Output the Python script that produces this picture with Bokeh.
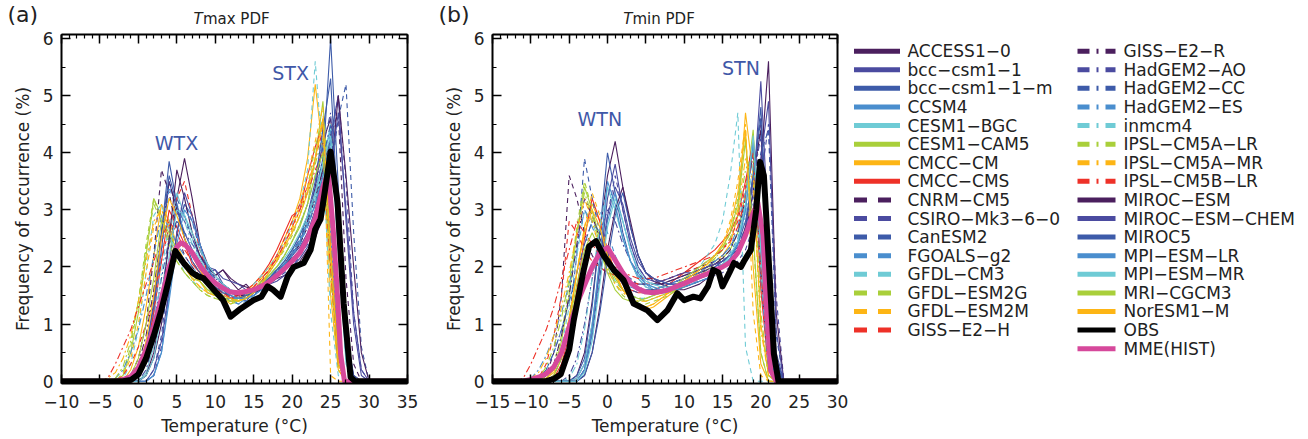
from bokeh.plotting import figure
from bokeh.models import Range1d, LinearAxis, SingleIntervalTicker, Label, CustomJSTickFormatter, ColumnDataSource
from bokeh.layouts import row, column
from bokeh.embed import file_html
from bokeh.resources import INLINE
from bokeh.core.properties import value

# ---------------- data ----------------
MODEL_NAMES = ["ACCESS1−0", "bcc−csm1−1", "bcc−csm1−1−m", "CCSM4", "CESM1−BGC", "CESM1−CAM5",
               "CMCC−CM", "CMCC−CMS", "CNRM−CM5", "CSIRO−Mk3−6−0", "CanESM2", "FGOALS−g2",
               "GFDL−CM3", "GFDL−ESM2G", "GFDL−ESM2M", "GISS−E2−H", "GISS−E2−R", "HadGEM2−AO",
               "HadGEM2−CC", "HadGEM2−ES", "inmcm4", "IPSL−CM5A−LR", "IPSL−CM5A−MR", "IPSL−CM5B−LR",
               "MIROC−ESM", "MIROC−ESM−CHEM", "MIROC5", "MPI−ESM−LR", "MPI−ESM−MR", "MRI−CGCM3", "NorESM1−M"]

TMAX_X = [-5, -4, -3, -2, -1, 0, 1, 2, 3, 4, 5, 6, 7, 8, 9, 10, 11, 12, 13, 14, 15, 16, 17, 18,
          19, 20, 21, 22, 23, 24, 25, 26, 27, 28, 29, 30]
TMAX_MODELS = [
    [0, 0, 0, 0, 0, 0, 0.1, 0.4, 1.0, 2.0, 3.2, 3.9, 3.2, 2.4, 2.05, 1.85, 1.95, 1.75, 1.6, 1.7, 1.55, 1.75, 1.8, 1.95, 2.05, 2.25, 2.4, 2.8, 3.4, 4.2, 4.6, 3.0, 0.8, 0.1, 0, 0],
    [0, 0, 0, 0, 0.05, 0.2, 0.6, 1.3, 2.3, 3.5, 3.0, 2.6, 2.3, 2.1, 1.9, 1.95, 1.7, 1.55, 1.5, 1.4, 1.55, 1.65, 1.7, 1.95, 2.0, 2.2, 2.35, 2.6, 3.0, 3.6, 4.3, 5.0, 2.8, 1.0, 0.1, 0],
    [0, 0, 0, 0, 0, 0.1, 0.4, 1.2, 2.6, 3.85, 3.1, 2.5, 2.2, 1.95, 1.85, 1.7, 1.6, 1.45, 1.5, 1.45, 1.6, 1.65, 1.8, 1.9, 2.05, 2.15, 2.3, 2.55, 2.9, 3.8, 6.0, 3.4, 0.9, 0.1, 0, 0],
    [0, 0, 0, 0, 0, 0, 0, 0.1, 0.5, 1.5, 2.6, 3.1, 2.9, 2.4, 1.95, 1.75, 1.5, 1.45, 1.35, 1.45, 1.5, 1.65, 1.7, 1.85, 2.0, 2.25, 2.4, 2.8, 3.3, 3.9, 4.4, 2.5, 0.5, 0, 0, 0],
    [0, 0, 0, 0, 0, 0, 0.15, 0.6, 1.5, 2.5, 3.3, 2.9, 2.5, 2.15, 1.9, 1.75, 1.6, 1.55, 1.45, 1.5, 1.6, 1.6, 1.85, 1.95, 2.1, 2.3, 2.45, 2.8, 3.2, 3.8, 4.5, 2.6, 0.4, 0, 0, 0],
    [0, 0, 0, 0.1, 0.5, 1.2, 2.2, 3.2, 2.9, 2.5, 2.2, 2.0, 1.8, 1.75, 1.6, 1.55, 1.45, 1.45, 1.4, 1.5, 1.6, 1.75, 1.85, 2.0, 2.2, 2.45, 2.7, 3.1, 3.9, 4.9, 2.8, 0.5, 0, 0, 0, 0],
    [0, 0, 0, 0, 0.2, 0.6, 1.3, 2.2, 3.1, 2.8, 2.4, 2.1, 1.85, 1.75, 1.55, 1.5, 1.45, 1.35, 1.45, 1.55, 1.7, 1.85, 2.0, 2.2, 2.5, 2.8, 3.2, 3.9, 5.2, 4.0, 1.5, 0.2, 0, 0, 0, 0],
    [0, 0, 0, 0, 0, 0.1, 0.5, 1.2, 2.1, 3.0, 2.7, 2.4, 2.05, 1.9, 1.8, 1.6, 1.55, 1.45, 1.5, 1.6, 1.7, 1.85, 2.05, 2.3, 2.6, 2.9, 3.0, 3.6, 4.1, 4.5, 2.4, 0.4, 0, 0, 0, 0],
    [0, 0, 0, 0, 0.1, 0.4, 1.0, 2.2, 3.7, 3.3, 2.6, 2.2, 2.0, 1.85, 1.75, 1.65, 1.55, 1.5, 1.55, 1.5, 1.6, 1.7, 1.8, 1.9, 2.05, 2.2, 2.4, 2.7, 3.1, 3.7, 4.3, 4.7, 1.8, 0.3, 0, 0],
    [0, 0, 0, 0, 0, 0, 0, 0.1, 0.6, 1.6, 2.6, 3.1, 2.8, 2.3, 2.0, 1.8, 1.7, 1.6, 1.55, 1.5, 1.55, 1.65, 1.75, 1.85, 1.95, 2.1, 2.3, 2.5, 2.8, 3.3, 4.2, 5.0, 3.5, 1.2, 0.2, 0],
    [0, 0, 0, 0, 0, 0, 0, 0.2, 0.8, 1.9, 3.2, 2.9, 2.5, 2.2, 1.95, 1.75, 1.6, 1.5, 1.45, 1.45, 1.5, 1.6, 1.7, 1.8, 1.9, 2.0, 2.2, 2.4, 2.6, 3.0, 3.6, 4.6, 5.2, 2.6, 0.6, 0],
    [0, 0, 0, 0, 0, 0.1, 0.4, 1.1, 2.2, 3.4, 3.0, 2.6, 2.3, 2.0, 1.8, 1.6, 1.5, 1.4, 1.35, 1.4, 1.5, 1.6, 1.75, 1.9, 2.05, 2.2, 2.4, 2.7, 3.1, 3.7, 4.3, 2.7, 0.6, 0, 0, 0],
    [0, 0, 0, 0.05, 0.3, 0.9, 1.9, 2.9, 3.1, 2.6, 2.2, 1.9, 1.75, 1.65, 1.55, 1.5, 1.45, 1.4, 1.45, 1.55, 1.7, 1.85, 2.0, 2.2, 2.45, 2.75, 3.1, 3.7, 5.6, 3.9, 1.2, 0.1, 0, 0, 0, 0],
    [0, 0, 0, 0.15, 0.6, 1.4, 2.4, 3.2, 2.8, 2.4, 2.1, 1.9, 1.75, 1.6, 1.5, 1.45, 1.4, 1.35, 1.4, 1.5, 1.6, 1.75, 1.9, 2.1, 2.3, 2.55, 2.9, 3.4, 4.1, 4.6, 2.0, 0.3, 0, 0, 0, 0],
    [0, 0, 0, 0.1, 0.4, 1.0, 1.9, 2.7, 3.0, 2.7, 2.3, 2.0, 1.8, 1.65, 1.55, 1.5, 1.45, 1.4, 1.45, 1.55, 1.65, 1.8, 1.95, 2.15, 2.4, 2.7, 3.1, 3.6, 4.2, 4.8, 0.1, 0, 0, 0, 0, 0],
    [0, 0, 0, 0.1, 0.3, 0.6, 1.0, 1.5, 2.1, 2.7, 3.2, 3.5, 2.9, 2.3, 1.9, 1.7, 1.55, 1.45, 1.45, 1.5, 1.6, 1.75, 1.95, 2.2, 2.5, 2.8, 3.1, 3.4, 3.9, 4.4, 2.2, 0.3, 0, 0, 0, 0],
    [0, 0, 0, 0, 0.1, 0.3, 0.8, 1.6, 2.6, 3.5, 3.0, 2.5, 2.2, 2.0, 1.85, 1.7, 1.6, 1.55, 1.5, 1.5, 1.55, 1.6, 1.7, 1.85, 2.0, 2.2, 2.45, 2.8, 3.2, 3.7, 4.2, 2.8, 0.7, 0, 0, 0],
    [0, 0, 0, 0, 0, 0, 0.2, 0.7, 1.5, 2.4, 3.0, 2.8, 2.5, 2.2, 1.95, 1.8, 1.7, 1.6, 1.55, 1.55, 1.6, 1.7, 1.8, 1.95, 2.1, 2.3, 2.55, 2.9, 3.4, 4.1, 4.7, 2.6, 0.4, 0, 0, 0],
    [0, 0, 0, 0, 0, 0.1, 0.4, 1.0, 1.8, 2.5, 2.8, 2.6, 2.4, 2.2, 2.0, 1.85, 1.7, 1.6, 1.55, 1.5, 1.55, 1.65, 1.75, 1.9, 2.05, 2.25, 2.5, 2.85, 3.3, 3.9, 4.5, 2.5, 0.5, 0, 0, 0],
    [0, 0, 0.05, 0.2, 0.5, 0.9, 1.5, 2.2, 2.9, 2.7, 2.4, 2.2, 2.0, 1.85, 1.7, 1.6, 1.5, 1.45, 1.45, 1.5, 1.6, 1.7, 1.85, 2.0, 2.2, 2.45, 2.75, 3.1, 3.6, 4.2, 2.6, 0.5, 0, 0, 0, 0],
    [0, 0, 0, 0, 0, 0.05, 0.3, 0.9, 1.9, 2.8, 3.1, 2.8, 2.4, 2.1, 1.85, 1.7, 1.55, 1.5, 1.45, 1.5, 1.55, 1.65, 1.8, 1.95, 2.1, 2.3, 2.55, 2.85, 3.2, 3.6, 4.0, 2.6, 0.6, 0, 0, 0],
    [0, 0, 0.05, 0.25, 0.7, 1.4, 2.3, 3.1, 2.8, 2.4, 2.1, 1.9, 1.75, 1.6, 1.5, 1.45, 1.4, 1.4, 1.45, 1.5, 1.6, 1.75, 1.9, 2.1, 2.35, 2.6, 2.9, 3.3, 3.8, 4.3, 1.8, 0.2, 0, 0, 0, 0],
    [0, 0.05, 0.15, 0.4, 0.8, 1.4, 2.1, 2.8, 3.0, 2.7, 2.3, 2.0, 1.8, 1.65, 1.55, 1.5, 1.45, 1.4, 1.4, 1.5, 1.65, 1.8, 1.95, 2.15, 2.4, 2.65, 3.0, 3.4, 3.9, 4.5, 1.9, 0.2, 0, 0, 0, 0],
    [0, 0.05, 0.3, 0.6, 0.9, 1.3, 1.7, 2.1, 2.5, 2.8, 2.6, 2.3, 2.1, 1.9, 1.75, 1.65, 1.55, 1.5, 1.5, 1.55, 1.65, 1.8, 1.95, 2.15, 2.4, 2.7, 3.0, 3.3, 3.7, 4.0, 2.0, 0.3, 0, 0, 0, 0],
    [0, 0, 0, 0, 0, 0, 0.1, 0.5, 1.3, 2.5, 3.7, 3.2, 2.6, 2.2, 2.0, 1.85, 1.95, 1.8, 1.7, 1.65, 1.6, 1.6, 1.7, 1.8, 1.85, 1.95, 2.1, 2.3, 2.5, 2.9, 3.6, 5.0, 3.6, 2.0, 0.5, 0],
    [0, 0, 0, 0, 0, 0, 0, 0.2, 0.7, 1.6, 2.6, 3.3, 2.9, 2.4, 2.0, 1.95, 1.8, 1.75, 1.7, 1.6, 1.6, 1.65, 1.7, 1.75, 1.85, 2.0, 2.15, 2.35, 2.6, 3.0, 3.7, 4.7, 3.0, 1.2, 0.2, 0],
    [0, 0, 0, 0, 0, 0.1, 0.5, 1.4, 2.6, 3.6, 3.1, 2.5, 2.1, 1.9, 1.75, 1.65, 1.55, 1.5, 1.45, 1.5, 1.55, 1.65, 1.8, 1.95, 2.1, 2.3, 2.55, 2.9, 3.5, 4.4, 5.3, 2.8, 0.5, 0, 0, 0],
    [0, 0, 0, 0, 0, 0, 0, 0.1, 0.5, 1.4, 2.4, 3.0, 2.8, 2.4, 2.0, 1.75, 1.6, 1.5, 1.45, 1.45, 1.5, 1.6, 1.75, 1.9, 2.05, 2.2, 2.45, 2.75, 3.1, 3.6, 4.2, 2.4, 0.4, 0, 0, 0],
    [0, 0, 0, 0, 0, 0, 0.1, 0.4, 1.2, 2.2, 3.0, 2.9, 2.6, 2.3, 2.05, 1.85, 1.7, 1.6, 1.55, 1.55, 1.6, 1.7, 1.85, 2.0, 2.15, 2.35, 2.6, 2.9, 3.3, 3.8, 4.3, 2.3, 0.3, 0, 0, 0],
    [0, 0, 0, 0, 0.1, 0.4, 1.0, 1.8, 2.8, 2.6, 2.3, 2.1, 1.9, 1.75, 1.6, 1.5, 1.45, 1.4, 1.4, 1.45, 1.55, 1.7, 1.85, 2.0, 2.2, 2.45, 2.75, 3.1, 3.6, 4.0, 2.2, 0.3, 0, 0, 0, 0],
    [0, 0, 0, 0, 0.05, 0.2, 0.7, 1.5, 2.5, 3.2, 2.9, 2.5, 2.2, 1.95, 1.75, 1.6, 1.5, 1.45, 1.4, 1.45, 1.55, 1.7, 1.9, 2.1, 2.35, 2.6, 2.9, 3.3, 3.9, 4.6, 2.3, 0.3, 0, 0, 0, 0],
]

TMIN_X = [-12, -11, -10, -9, -8, -7, -6, -5, -4, -3, -2, -1, 0, 1, 2, 3, 4, 5, 6, 7, 8, 9, 10, 11,
          12, 13, 14, 15, 16, 17, 18, 19, 20, 21, 22, 23]
TMIN_MODELS = [
    [0, 0, 0, 0, 0, 0, 0, 0, 0.1, 0.5, 1.4, 2.6, 3.6, 4.2, 3.4, 2.7, 2.2, 1.9, 1.8, 1.7, 1.65, 1.6, 1.6, 1.65, 1.7, 1.8, 1.9, 2.0, 2.1, 2.3, 2.7, 3.6, 4.4, 2.0, 0.3, 0],
    [0, 0, 0, 0, 0, 0, 0, 0, 0.05, 0.3, 1.0, 2.0, 2.9, 3.4, 3.1, 2.5, 2.1, 1.9, 1.8, 1.75, 1.7, 1.7, 1.75, 1.8, 1.85, 1.9, 1.95, 2.0, 2.1, 2.25, 2.5, 3.3, 5.25, 2.6, 0.5, 0],
    [0, 0, 0, 0, 0, 0, 0, 0, 0.1, 0.4, 1.3, 2.6, 4.0, 3.3, 2.6, 2.1, 1.8, 1.65, 1.6, 1.6, 1.6, 1.65, 1.7, 1.75, 1.8, 1.85, 1.9, 2.0, 2.1, 2.25, 2.6, 3.5, 4.8, 2.2, 0.4, 0],
    [0, 0, 0, 0, 0, 0, 0, 0, 0, 0.2, 0.8, 1.8, 2.8, 3.3, 2.8, 2.3, 1.9, 1.7, 1.6, 1.55, 1.55, 1.6, 1.65, 1.7, 1.75, 1.8, 1.9, 2.0, 2.15, 2.4, 3.0, 4.3, 2.6, 0.6, 0, 0],
    [0, 0, 0, 0, 0, 0, 0, 0, 0.05, 0.3, 1.0, 2.1, 3.4, 3.0, 2.5, 2.1, 1.8, 1.65, 1.6, 1.55, 1.55, 1.6, 1.65, 1.7, 1.8, 1.85, 1.95, 2.05, 2.2, 2.45, 3.1, 4.1, 2.2, 0.4, 0, 0],
    [0, 0, 0, 0, 0.05, 0.2, 0.7, 1.5, 2.6, 3.4, 3.0, 2.5, 2.1, 1.8, 1.6, 1.5, 1.45, 1.4, 1.45, 1.5, 1.55, 1.6, 1.65, 1.75, 1.85, 1.95, 2.05, 2.15, 2.3, 2.6, 3.3, 4.4, 2.0, 0.3, 0, 0],
    [0, 0, 0, 0, 0, 0.1, 0.4, 1.0, 1.9, 2.7, 3.1, 2.8, 2.3, 1.9, 1.6, 1.45, 1.35, 1.25, 1.3, 1.4, 1.5, 1.6, 1.7, 1.8, 1.9, 2.0, 2.1, 2.2, 2.4, 2.9, 4.7, 3.6, 1.0, 0.1, 0, 0],
    [0, 0, 0, 0, 0, 0.05, 0.3, 0.8, 1.6, 2.5, 3.2, 2.8, 2.3, 1.9, 1.7, 1.6, 1.55, 1.55, 1.6, 1.65, 1.7, 1.8, 1.9, 2.0, 2.1, 2.2, 2.3, 2.45, 2.6, 2.9, 3.5, 4.2, 1.6, 0.2, 0, 0],
    [0, 0, 0, 0, 0.1, 0.5, 1.5, 3.6, 3.2, 2.6, 2.2, 2.0, 1.9, 1.85, 1.8, 1.75, 1.7, 1.7, 1.7, 1.75, 1.8, 1.85, 1.9, 1.95, 2.0, 2.05, 2.1, 2.15, 2.2, 2.3, 2.6, 3.3, 4.6, 2.0, 0.3, 0],
    [0, 0, 0, 0, 0, 0, 0, 0, 0, 0.2, 0.8, 1.8, 2.9, 3.6, 3.0, 2.4, 2.0, 1.8, 1.7, 1.65, 1.6, 1.6, 1.65, 1.7, 1.75, 1.8, 1.85, 1.9, 2.0, 2.1, 2.3, 2.7, 3.5, 4.5, 1.5, 0],
    [0, 0, 0, 0, 0, 0.1, 0.4, 1.1, 2.2, 3.9, 3.2, 2.6, 2.2, 1.9, 1.7, 1.6, 1.55, 1.55, 1.6, 1.65, 1.7, 1.75, 1.8, 1.85, 1.9, 1.95, 2.0, 2.05, 2.1, 2.2, 2.5, 3.2, 4.0, 4.4, 0.8, 0],
    [0, 0, 0, 0.05, 0.2, 0.5, 0.9, 1.4, 1.9, 2.4, 2.8, 3.0, 2.6, 2.2, 1.9, 1.7, 1.6, 1.55, 1.55, 1.6, 1.65, 1.7, 1.75, 1.8, 1.85, 1.9, 2.0, 2.1, 2.25, 2.5, 3.0, 4.1, 2.2, 0.3, 0, 0],
    [0, 0, 0, 0, 0.05, 0.2, 0.6, 1.3, 2.2, 3.0, 2.8, 2.4, 2.0, 1.75, 1.6, 1.5, 1.45, 1.45, 1.5, 1.55, 1.6, 1.7, 1.8, 1.9, 2.0, 2.2, 2.4, 2.8, 3.6, 4.7, 0.6, 0, 0, 0, 0, 0],
    [0, 0, 0, 0, 0.1, 0.3, 0.8, 1.7, 2.7, 3.5, 3.0, 2.4, 2.0, 1.7, 1.5, 1.4, 1.35, 1.35, 1.4, 1.45, 1.5, 1.6, 1.7, 1.8, 1.9, 2.0, 2.15, 2.3, 2.6, 3.2, 4.3, 2.5, 0.5, 0, 0, 0],
    [0, 0, 0, 0, 0.05, 0.2, 0.5, 1.1, 1.9, 2.7, 3.3, 2.9, 2.3, 1.9, 1.6, 1.45, 1.35, 1.3, 1.35, 1.45, 1.55, 1.65, 1.75, 1.85, 1.95, 2.05, 2.2, 2.4, 2.8, 3.5, 4.5, 1.2, 0.1, 0, 0, 0],
    [0, 0, 0, 0.05, 0.3, 0.8, 1.5, 2.8, 2.6, 2.3, 2.1, 2.0, 1.9, 1.85, 1.8, 1.75, 1.7, 1.7, 1.7, 1.75, 1.8, 1.85, 1.9, 1.95, 2.0, 2.1, 2.2, 2.3, 2.5, 2.8, 3.4, 4.2, 1.8, 0.2, 0, 0],
    [0, 0, 0, 0, 0.1, 0.3, 0.8, 1.5, 2.4, 3.2, 2.9, 2.5, 2.2, 1.95, 1.8, 1.7, 1.65, 1.6, 1.6, 1.65, 1.7, 1.75, 1.8, 1.85, 1.9, 1.95, 2.05, 2.15, 2.3, 2.6, 3.2, 4.0, 1.9, 0.3, 0, 0],
    [0, 0, 0, 0, 0, 0, 0, 0.1, 0.4, 1.0, 1.8, 2.6, 3.0, 2.8, 2.4, 2.1, 1.9, 1.75, 1.7, 1.7, 1.7, 1.75, 1.8, 1.85, 1.9, 1.95, 2.0, 2.1, 2.2, 2.35, 2.7, 3.5, 4.3, 1.5, 0.2, 0],
    [0, 0, 0, 0.05, 0.2, 0.5, 0.9, 1.4, 1.9, 2.4, 2.8, 2.6, 2.3, 2.1, 1.9, 1.8, 1.7, 1.7, 1.7, 1.7, 1.75, 1.8, 1.85, 1.9, 1.95, 2.0, 2.1, 2.2, 2.35, 2.6, 3.1, 4.0, 2.0, 0.3, 0, 0],
    [0, 0, 0.05, 0.2, 0.45, 0.8, 1.2, 1.7, 2.3, 3.0, 2.7, 2.4, 2.1, 1.9, 1.75, 1.65, 1.6, 1.6, 1.6, 1.65, 1.7, 1.75, 1.8, 1.85, 1.9, 2.0, 2.1, 2.2, 2.35, 2.7, 3.3, 4.2, 1.8, 0.2, 0, 0],
    [0, 0, 0, 0, 0, 0, 0, 0.05, 0.3, 0.9, 1.8, 2.7, 3.4, 3.0, 2.5, 2.1, 1.85, 1.7, 1.65, 1.6, 1.6, 1.65, 1.7, 1.75, 1.8, 1.85, 1.95, 2.05, 2.2, 2.4, 2.9, 3.8, 2.0, 0.3, 0, 0],
    [0, 0, 0, 0.05, 0.25, 0.6, 1.1, 1.8, 2.6, 3.3, 2.9, 2.4, 2.0, 1.75, 1.6, 1.5, 1.45, 1.45, 1.5, 1.55, 1.6, 1.65, 1.75, 1.85, 1.95, 2.05, 2.15, 2.3, 2.5, 2.9, 3.7, 4.0, 1.2, 0.1, 0, 0],
    [0, 0, 0.05, 0.15, 0.4, 0.8, 1.3, 1.9, 2.6, 3.2, 2.8, 2.3, 1.95, 1.7, 1.55, 1.45, 1.4, 1.4, 1.45, 1.5, 1.55, 1.65, 1.75, 1.85, 1.95, 2.05, 2.2, 2.35, 2.6, 3.0, 3.9, 3.5, 0.9, 0.1, 0, 0],
    [0, 0.05, 0.3, 0.6, 0.9, 1.3, 1.8, 2.3, 2.8, 2.6, 2.4, 2.2, 2.1, 2.0, 1.9, 1.85, 1.8, 1.8, 1.8, 1.85, 1.9, 1.95, 2.0, 2.05, 2.1, 2.15, 2.2, 2.3, 2.45, 2.7, 3.2, 4.0, 2.0, 0.3, 0, 0],
    [0, 0, 0, 0, 0, 0, 0, 0, 0, 0.1, 0.5, 1.3, 2.3, 3.0, 3.4, 2.8, 2.2, 1.9, 1.75, 1.7, 1.75, 1.8, 1.85, 1.9, 1.95, 2.0, 2.05, 2.1, 2.2, 2.3, 2.5, 3.0, 3.8, 5.6, 1.2, 0],
    [0, 0, 0, 0, 0, 0, 0, 0, 0, 0.2, 0.9, 2.0, 3.2, 3.8, 3.0, 2.4, 2.0, 1.8, 1.75, 1.75, 1.8, 1.85, 1.9, 1.9, 1.95, 2.0, 2.05, 2.1, 2.2, 2.3, 2.5, 3.0, 3.9, 4.9, 0.9, 0],
    [0, 0, 0, 0, 0, 0, 0, 0, 0, 0.1, 0.5, 1.2, 2.1, 2.9, 3.3, 2.7, 2.2, 1.9, 1.8, 1.75, 1.7, 1.7, 1.75, 1.8, 1.85, 1.9, 2.0, 2.1, 2.2, 2.4, 2.8, 3.6, 4.6, 1.9, 0.3, 0],
    [0, 0, 0, 0, 0, 0, 0, 0, 0, 0.2, 0.9, 2.2, 3.5, 3.1, 2.5, 2.1, 1.85, 1.7, 1.65, 1.6, 1.6, 1.6, 1.65, 1.7, 1.75, 1.8, 1.9, 2.0, 2.15, 2.4, 3.0, 4.2, 2.4, 0.4, 0, 0],
    [0, 0, 0, 0, 0, 0, 0, 0, 0, 0.15, 0.7, 1.7, 2.7, 3.2, 2.8, 2.3, 1.95, 1.75, 1.7, 1.65, 1.65, 1.65, 1.7, 1.75, 1.8, 1.85, 1.95, 2.05, 2.2, 2.45, 3.1, 4.3, 2.3, 0.3, 0, 0],
    [0, 0, 0, 0, 0, 0.1, 0.4, 1.0, 1.7, 2.3, 2.6, 2.3, 1.9, 1.6, 1.45, 1.4, 1.4, 1.45, 1.5, 1.55, 1.6, 1.7, 1.8, 1.9, 2.0, 2.1, 2.2, 2.35, 2.6, 3.1, 4.2, 2.6, 0.5, 0, 0, 0],
    [0, 0, 0, 0, 0.05, 0.15, 0.5, 1.1, 1.9, 2.6, 3.0, 2.7, 2.2, 1.85, 1.6, 1.45, 1.35, 1.3, 1.35, 1.45, 1.55, 1.65, 1.75, 1.85, 1.95, 2.05, 2.2, 2.4, 2.7, 3.3, 4.4, 2.0, 0.3, 0, 0, 0],
]

OBS_TMAX_X = [-10, -2, -1, 0, 1, 2, 3, 4, 4.8, 6, 7, 7.7, 8.5, 9.8, 11, 12, 13.3, 15, 16, 16.8,
              17.5, 18.5, 19.4, 20.2, 21.5, 22.4, 23, 23.7, 24.3, 25, 25.9, 26.7, 27.6, 28.2, 35]
OBS_TMAX = [0, 0, 0.02, 0.12, 0.4, 0.8, 1.25, 1.8, 2.28, 2.05, 1.9, 1.84, 1.8, 1.6, 1.42, 1.13, 1.27,
            1.42, 1.48, 1.66, 1.6, 1.48, 1.83, 2.0, 2.07, 2.3, 2.66, 2.84, 3.37, 4.02, 3.13, 1.36,
            0.07, 0, 0]
MME_TMAX_X = [-10, -3, -2, -1, 0, 1, 2, 3, 4, 5, 5.5, 6, 7, 8, 9, 10, 11, 12, 13, 14, 15, 16, 17,
              18, 19, 20, 21, 22, 23, 24, 24.7, 25.4, 25.9, 26.3, 26.8, 35]
MME_TMAX = [0, 0, 0.03, 0.08, 0.24, 0.55, 0.95, 1.45, 2.0, 2.35, 2.42, 2.4, 2.25, 2.02, 1.85, 1.72,
            1.63, 1.56, 1.55, 1.57, 1.6, 1.66, 1.74, 1.85, 1.97, 2.1, 2.25, 2.5, 2.85, 3.4, 3.67,
            2.55, 1.48, 0.48, 0, 0]

OBS_TMIN_X = [-15, -8, -7, -6.1, -5, -4.4, -3.1, -2.4, -1.5, -0.5, 0.8, 2.1, 3.4, 5.2, 6.5, 7.8,
              9.1, 10, 11.2, 12.1, 13.1, 13.8, 14.5, 15.0, 15.9, 16.5, 17.4, 17.8, 18.7, 19.4,
              19.9, 20.4, 21.1, 21.7, 22.3, 30]
OBS_TMIN = [0, 0, 0.04, 0.12, 0.55, 1.07, 1.95, 2.36, 2.45, 2.2, 1.95, 1.77, 1.36, 1.24, 1.07, 1.24,
            1.54, 1.42, 1.48, 1.45, 1.66, 1.95, 1.9, 1.66, 1.9, 2.07, 2.0, 2.1, 2.3, 3.0, 3.84, 3.6,
            1.95, 0.48, 0, 0]
MME_TMIN_X = [-15, -11, -10, -9, -8, -7, -6, -5, -4, -3, -2, -1, 0, 1, 2, 3, 4, 5, 6, 7, 8, 9, 10,
              11, 12, 13, 14, 15, 16, 17, 18, 19, 19.6, 20.3, 20.7, 21.3, 22, 30]
MME_TMIN = [0, 0, 0.03, 0.07, 0.13, 0.25, 0.5, 0.95, 1.35, 1.68, 2.0, 2.25, 2.34, 2.12, 1.9, 1.72,
            1.62, 1.56, 1.55, 1.57, 1.6, 1.66, 1.71, 1.77, 1.83, 1.88, 1.94, 2.0, 2.08, 2.25, 2.55,
            2.95, 3.13, 2.55, 1.36, 0.18, 0, 0]

TMAX_TICKS = [-10, -5, 0, 5, 10, 15, 20, 25, 30, 35]
TMAX_TICK_LABELS = ["−10", "−5", "0", "5", "10", "15", "20", "25", "30", "35"]
TMIN_TICKS = [-15, -10, -5, 0, 5, 10, 15, 20, 25, 30]
TMIN_TICK_LABELS = ["−15", "−10", "−5", "0", "5", "10", "15", "20", "25", "30"]

# ---------------- styles ----------------
PALETTE = ["#4b1f5e", "#4b4ba0", "#3d5ba9", "#4a8ece", "#6fcbd5", "#a9cf3a", "#fdb515", "#ee3128"]
OBS_COLOR = "#000000"
MME_COLOR = "#d6489b"
ANNOT_COLOR = "#3f58a8"
TXT = "#222222"
FONT = "DejaVu Sans"

HEADER_H = 27
PANEL_H = 412
BORDER_TOP = 7
BORDER_BOTTOM = 56


def model_style(i):
    if i < 8 or i >= 24:
        return "solid"
    if i < 16:
        return "dashed"
    return "dashdot"


PLOT_DASH = {"solid": "solid", "dashed": "5 4", "dashdot": "7 3 2 3"}


def style_axis(ax, ticker, blank=False):
    ax.ticker = ticker
    ax.axis_line_width = 2
    ax.axis_line_color = "black"
    ax.major_tick_in = 9
    ax.major_tick_out = 0
    ax.minor_tick_in = 4
    ax.minor_tick_out = 0
    ax.major_tick_line_width = 1.5
    ax.minor_tick_line_width = 1.2
    ax.major_tick_line_color = "black"
    ax.minor_tick_line_color = "black"
    ax.major_label_text_font = FONT
    ax.major_label_text_font_size = "17px"
    ax.major_label_text_color = TXT
    ax.major_label_standoff = 8
    ax.axis_label_text_font = FONT
    ax.axis_label_text_font_size = "17px"
    ax.axis_label_text_font_style = "normal"
    ax.axis_label_text_color = TXT
    if blank:
        ax.formatter = CustomJSTickFormatter(code="return ''")
        ax.major_label_standoff = 0
        ax.major_label_text_font_size = "1px"


def make_panel(xr, width, bl, br, mx, models, obs_x, obs, mme_x, mme, ticks, tick_labels):
    p = figure(width=width, height=PANEL_H, x_range=Range1d(*xr), y_range=Range1d(-0.04, 6.07),
               output_backend="svg", toolbar_location=None, title=None,
               min_border_left=bl, min_border_right=br, min_border_top=BORDER_TOP,
               min_border_bottom=BORDER_BOTTOM)
    p.xgrid.visible = False
    p.ygrid.visible = False
    p.outline_line_color = None
    p.background_fill_color = "white"
    p.border_fill_color = "white"

    xb = p.xaxis[0]
    yl = p.yaxis[0]
    style_axis(xb, SingleIntervalTicker(interval=5, num_minor_ticks=5))
    style_axis(yl, SingleIntervalTicker(interval=1, num_minor_ticks=2))
    xb.major_label_overrides = {t: s for t, s in zip(ticks, tick_labels)}
    xb.major_label_standoff = 11
    xb.axis_label = "Temperature (°C)"
    xb.axis_label_standoff = 5
    yl.axis_label = "Frequency of occurrence (%)"
    yl.axis_label_standoff = 7

    xt = LinearAxis()
    style_axis(xt, SingleIntervalTicker(interval=5, num_minor_ticks=5), blank=True)
    p.add_layout(xt, "above")
    yr = LinearAxis()
    style_axis(yr, SingleIntervalTicker(interval=1, num_minor_ticks=2), blank=True)
    p.add_layout(yr, "right")

    for i, ys in enumerate(models):
        p.line(mx, ys, line_color=PALETTE[i % 8], line_width=1.1,
               line_dash=PLOT_DASH[model_style(i)])
    p.line(mme_x, mme, line_color=MME_COLOR, line_width=5, line_join="round")
    p.line(obs_x, obs, line_color=OBS_COLOR, line_width=6, line_join="round")
    return p


pa = make_panel((-10, 35), 430, 61, 23, TMAX_X, TMAX_MODELS, OBS_TMAX_X, OBS_TMAX,
                MME_TMAX_X, MME_TMAX, TMAX_TICKS, TMAX_TICK_LABELS)
pb = make_panel((-15, 30), 423, 62, 16, TMIN_X, TMIN_MODELS, OBS_TMIN_X, OBS_TMIN,
                MME_TMIN_X, MME_TMIN, TMIN_TICKS, TMIN_TICK_LABELS)

# in-plot annotations
for p, items in ((pa, [(4.95, 4.17, "WTX"), (19.8, 5.39, "STX")]),
                 (pb, [(-1.0, 4.59, "WTN"), (17.4, 5.48, "STN")])):
    for x, y, t in items:
        p.add_layout(Label(x=x, y=y, text=t, text_font=FONT, text_font_size="19px",
                           text_align="center", text_baseline="middle", text_color=ANNOT_COLOR))

# ---------------- header with panel titles ----------------
header = figure(width=1300, height=HEADER_H, x_range=Range1d(0, 1300), y_range=Range1d(HEADER_H, 0),
                output_backend="svg", toolbar_location=None, title=None, min_border=0,
                x_axis_type=None, y_axis_type=None)
header.outline_line_color = None
header.text(x=[7, 438], y=[14.3, 14.3], text=["(a)", "(b)"], text_font=value(FONT),
            text_font_size=value("22px"), text_baseline="middle", text_color=TXT)
header.text(x=[193, 622.7], y=[18.3, 18.3], text=["T", "T"], text_font=value(FONT),
            text_font_size=value("15px"), text_font_style="italic", text_baseline="middle",
            text_color=TXT)
header.text(x=[202.4, 632], y=[18.3, 18.3], text=["max PDF", "min PDF"], text_font=value(FONT),
            text_font_size=value("15px"), text_baseline="middle", text_color=TXT)

# ---------------- legend panel ----------------
leg = figure(width=447, height=PANEL_H, x_range=Range1d(0, 447), y_range=Range1d(PANEL_H, 0),
             output_backend="svg", toolbar_location=None, title=None, min_border=0,
             x_axis_type=None, y_axis_type=None)
leg.outline_line_color = None
leg.background_fill_color = "white"
leg.border_fill_color = "white"

LEG_NAMES = MODEL_NAMES + ["OBS", "MME(HIST)"]
LEG_COLORS = [PALETTE[i % 8] for i in range(len(MODEL_NAMES))] + [OBS_COLOR, MME_COLOR]
LEG_STYLES = [model_style(i) for i in range(len(MODEL_NAMES))] + ["solid", "solid"]

tx, ty = [], []
for i, name in enumerate(LEG_NAMES):
    col = 0 if i < 16 else 1
    r = i if i < 16 else i - 16
    yc = 46.7 - HEADER_H + r * 21.95
    st = LEG_STYLES[i]
    if col == 0:
        x0, x1, xt_ = 0.5, (37.5 if st == "dashed" else 46.5), 54
    else:
        x0, x1, xt_ = 224, 262, 270
    dash = {"solid": "solid", "dashed": "13 11", "dashdot": "12 7 2 7"}[st]
    leg.line([x0, x1], [yc, yc], line_color=LEG_COLORS[i], line_width=5, line_dash=dash)
    tx.append(xt_)
    ty.append(yc)

leg.text(x="x", y="y", text="t", source=ColumnDataSource(dict(x=tx, y=ty, t=LEG_NAMES)),
         text_font=value(FONT), text_font_size=value("17px"), text_baseline="middle",
         text_align="left", text_color=TXT)

layout = column(header, row(pa, pb, leg))
open("out.html", "w").write(file_html(layout, INLINE))
